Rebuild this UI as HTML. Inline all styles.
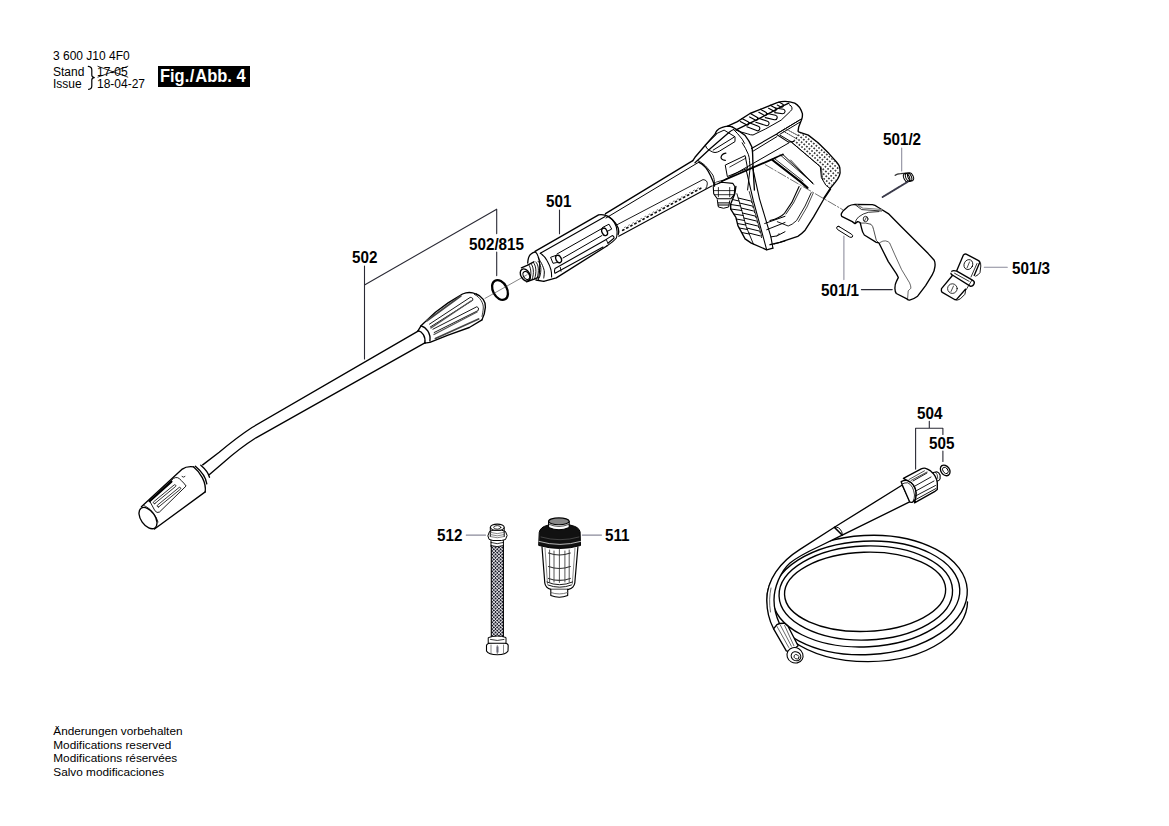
<!DOCTYPE html>
<html><head><meta charset="utf-8">
<style>
html,body{margin:0;padding:0;background:#fff;}
body{width:1169px;height:826px;position:relative;overflow:hidden;font-family:"Liberation Sans",sans-serif;color:#000;}
.t{position:absolute;white-space:nowrap;line-height:1;}
.r{font-size:12px;}
.b{font-weight:bold;font-size:17.4px;transform:scaleX(0.875);transform-origin:0 0;}
svg{position:absolute;left:0;top:0;}
</style></head><body>
<div class="t r" style="left:53px;top:50px;">3 600 J10 4F0</div>
<div class="t r" style="left:53px;top:66px;">Stand</div>
<div class="t r" style="left:53px;top:78px;">Issue</div>
<div class="t r" style="left:97px;top:66px;">17-05</div>
<div class="t r" style="left:97px;top:78px;">18-04-27</div>
<div style="position:absolute;left:158px;top:66px;width:92px;height:21px;background:#000;"></div>
<div class="t" style="left:160px;top:67.85px;font-size:17.7px;font-weight:bold;color:#fff;transform:scaleX(0.93);transform-origin:0 0;">Fig.<span style="margin-left:0.6px">/</span><span style="margin-left:1px">Abb.</span> 4</div>
<div class="t r" style="left:53.3px;top:725px;line-height:13.7px;font-size:11.8px;">Änderungen vorbehalten<br>Modifications reserved<br>Modifications réservées<br>Salvo modificaciones</div>

<div class="t b" style="left:351.5px;top:249px;">502</div>
<div class="t b" style="left:468.5px;top:236px;">502/815</div>
<div class="t b" style="left:545.5px;top:193px;">501</div>
<div class="t b" style="left:882.5px;top:131px;">501/2</div>
<div class="t b" style="left:820.5px;top:282px;">501/1</div>
<div class="t b" style="left:1011.5px;top:260px;">501/3</div>
<div class="t b" style="left:916.5px;top:405px;">504</div>
<div class="t b" style="left:928.5px;top:435px;">505</div>
<div class="t b" style="left:436.5px;top:527px;">512</div>
<div class="t b" style="left:604.5px;top:527px;">511</div>

<svg width="1169" height="826" viewBox="0 0 1169 826" fill="none" stroke="#000" stroke-width="1.35" stroke-linejoin="round" stroke-linecap="round">

<!-- LANCE 502 -->
<g id="lance">
<ellipse cx="148" cy="518.1" rx="12" ry="7.1" transform="rotate(55 148 518.1)"/>
<path d="M141.4 506.7L182.3 469.1Q186.5 466 193.7 466.9"/>
<path d="M154.5 529L205.2 491.9"/>
<path d="M193.7 466.9C200 472 206.5 482 205.2 491.9"/>
<path d="M195.4 466.3C201 471 206 478 206.8 483.8M200.8 465.3C204 468 208 472 209.5 477.2"/>
<path d="M144 505.5C150 508 156 515 158 522" stroke-width="0.8"/>
<path d="M150.2 501.2L173.6 478.3Q178 476 181.2 480.5Q184 483 186.1 486L159.4 512.1Q157 513.5 155.1 511Z" stroke-width="0.9"/>
<path d="M149.6 501.2L171.4 481.6" stroke-width="2.2"/>
<path d="M154.9 503.5L175.7 486.4A1.10 1.10 0 0 0 174.3 484.8L153.5 501.9A1.10 1.10 0 0 0 154.9 503.5ZM158.7 506.9L180.5 489.1A1.10 1.10 0 0 0 179.2 487.4L157.4 505.2A1.10 1.10 0 0 0 158.7 506.9Z" stroke-width="0.8"/>
<path d="M182 476.5q1.5 1.5 3 0" stroke-width="0.8"/>
<path d="M202.7 464.9L219.2 452.3Q236 438 252 427.5L418.5 330.8"/>
<path d="M209.5 474.6L224.1 462Q240 448 256 437.8L425.3 342.7"/>
<!-- nut -->
<path d="M418.1 330.7C422 331.5 426 336 424.8 343.1"/>
<path d="M421 325.8C426 327 431 333 429.9 341"/>
<path d="M418.1 330.7L421 325.8L435.4 312.2L448.1 302.9L462.5 294Q469.3 291 476.1 294"/>
<path d="M424.8 343.1L429.9 342.3L448.1 335.1L469.3 327.5L482 319.8"/>
<path d="M476.1 294C482 296 486 302 485.4 307.1C485 312 484 316 482 319.8"/>
<path d="M474.4 294.4C480 297 483.5 303 483.3 308C483 312 482.5 314 482 316.4" stroke-width="0.8"/>
<path d="M429.5 324.1L470.2 297.4Q473.5 297.5 472.7 300.3L430.3 327" stroke-width="0.9"/>
<path d="M432.9 329.2L476.9 306.7Q479.5 307.5 478.2 310.5L434.2 332.5" stroke-width="0.9"/>
<path d="M435.4 338.5L478.6 319" stroke-width="1.8" stroke="#444"/>
<path d="M426.9 320.7L460.8 296.1" stroke-width="1.8" stroke="#444"/>
<path d="M431 328L471 301M434 334.5L477 312" stroke-width="1.4" stroke="#555"/>
</g>
<!-- O-ring 502/815 -->
<ellipse cx="500" cy="290" rx="10.6" ry="7" transform="rotate(62 500 290)" stroke-width="2.3"/>
<path d="M485 298.4L527 274.8" stroke-width="0.6" stroke="#333"/>

<!-- GUN 501 -->
<g id="gun">
<!-- threaded tip -->
<ellipse cx="525.3" cy="275" rx="4.4" ry="6.6" transform="rotate(-30 525.3 275)" stroke-width="1.4"/>
<ellipse cx="526.3" cy="275.5" rx="2.8" ry="4.3" transform="rotate(-30 526.3 275.5)" stroke-width="1"/>
<path d="M521.4 267.8L527.1 265.4L533.8 261.8M526.5 281.8L535.6 278.7L538 277.5"/>
<path d="M528.3 264.2C531 267 532 274 529.5 280.5M530.7 263.3C533.5 266 534.5 273 532 279.7M533.2 262.4C536 265 537 272 534.5 279M535.6 261.8C538.5 264 539.5 271 537 278.3M538 261.2C541 263.5 542 270 539.5 277.5" stroke-width="0.9"/>
<!-- flange -->
<path d="M527.7 263C528 258 529 255.5 531 254C532.5 252.5 534 252 535.6 251.8" stroke-width="1.3"/>
<path d="M535.5 252C537.5 254 539 258 539.5 262C540 268 539.5 274 538.5 279.5" stroke-width="1.1"/>
<path d="M536 280L543.7 281.3"/>
<!-- sleeve -->
<path d="M535 251.3L598.6 214.9Q601.5 214.3 605.2 215.2"/>
<path d="M540.3 253.3L605.2 216.5" stroke-width="1.1"/>
<path d="M605.2 215.2C610.6 217.1 615.5 222 618.2 228C619 231 618.8 233 618.2 234.5"/>
<path d="M607.9 216C613.3 219.8 617.1 225.8 617.1 231.8C617 235 616.5 238 616.1 238.3C614.5 240.5 612 242.5 606.8 246" stroke-width="1.1"/>
<path d="M557 254L602 228.5M563 258L602 235.5" stroke-width="1"/>
<ellipse cx="558.6" cy="259" rx="2.6" ry="3.9" transform="rotate(-25 558.6 259)" fill="#fff"/>
<ellipse cx="604.6" cy="231.8" rx="2.6" ry="3.9" transform="rotate(-25 604.6 231.8)" fill="#fff"/>
<path d="M556.3 255.3L550.6 257.3L553 263.3L556.5 262.6" stroke-width="1"/>
<path d="M602.5 227.5L609 224.2L611.7 229.1L607 231.5" stroke-width="1"/>
<path d="M555 268.6L606.2 239.4L612.2 235.6Q614.5 236.5 613.9 238.3L607.9 243.2M555 268.6Q554 271.5 555 273.3L603 247" stroke-width="1.1"/>
<path d="M560.3 267.3L561 271.3M606.2 239.4L607.9 243.2" stroke-width="0.9"/>
<path d="M543.7 281.3L556.3 277.9L606.8 246"/>
<path d="M540.3 253.3C543 255 545.7 258 547 260.5C549 264 550.3 267.3 551 270C551.7 273 551.6 276.6 551.6 277" stroke-width="1.1"/>
<path d="M538.3 258C539.5 260 541.7 263.3 542.5 265.5C543.5 268 544.3 270 544.3 272C544.3 275 543.7 277.9 543.7 278" stroke-width="1"/>
<!-- tube -->
<path d="M605.5 213.6L692.8 160.7"/>
<path d="M606 218L698.6 162.3" stroke-width="1"/>
<path d="M617.3 224.6L703 179.6Q707.5 180 707.3 183.9Q707 187 705.9 188.3" stroke-width="0.9"/>
<path d="M618.7 236.2L711.7 186.1" stroke-width="1.1"/>
<path d="M622.7 230.3L702.6 187.3" stroke-width="1.7" stroke="#111" stroke-dasharray="1.3 3.3"/><path d="M624.5 227.5L700 187" stroke-width="0.9" stroke="#666" stroke-dasharray="1 3.6"/>
<path d="M698.6 162.1C703 164 708 170 710.5 175.5C712 179 714 183 714.6 186"/>
<!-- body front / neck -->
<path d="M692.8 160.7L695 157.3L705.3 145.2L715 134.3Q716 131.5 716.8 130.7Q719 128.5 721.6 127.7Q725 126.3 727.7 126.2Q730.5 126.3 732.5 127.1"/>
<path d="M727.7 126.2L737.4 121.6L750 113.5L777.2 102.6Q786 100 794.7 103.2Q800 106 802.4 113.6Q802.6 117 801.8 119.1L798.7 126.9L798.1 131.2"/>
<path d="M695 162.8L710.7 148.3L728.9 132.5Q731.5 130.2 733.7 129.5" stroke-width="1.3"/>
<path d="M705.3 145.2Q705.5 148.5 710.1 150.7Q713 152.5 715 152.5Q717.5 152.3 719.2 151.3L735 141.6L735 136.8L724.1 130.1L715 134.3" stroke-width="1"/>
<path d="M713.2 150.1L733.7 137.4" stroke-width="1"/>
<path d="M706.5 144L716.5 134.5" stroke-width="0.8"/>
<path d="M725.9 153.1Q721.6 153.8 721 157.3Q721.2 160 725.3 160.4" stroke-width="1.2"/>
<!-- front band -->
<path d="M732.5 127.1Q738.6 130.1 745.2 135.6Q749.5 141 751.9 147.1Q752.8 152 752.8 160.4L753.1 168L754.4 190"/>
<path d="M733.7 129.5Q737.4 133.1 742.2 139.2L744.6 143.4" stroke-width="1"/>
<path d="M742.2 142.8Q745.8 148.3 748.3 154.3Q749.5 158 749.5 160.4L750.1 168L747.6 190" stroke-width="1"/>
<!-- neck arc -->
<path d="M698.5 160.7C702 163 705 165 706.9 167.5C710 171 712 174 712.9 175.1C714 178 714.6 181 714.6 183.6" stroke-width="0.9"/>
<!-- button -->
<path d="M725.6 164.9L745.1 155.6L747.6 168.3L727.7 176.4Z" stroke-width="1"/>
<path d="M729.8 167L745.9 158.1" stroke-width="0.8"/>
<!-- body lower line -->
<path d="M718 183.6L788.7 143" stroke-width="1"/>
<path d="M722.2 181L774.2 158.4Q779 155.8 782.9 154.5" stroke-width="1.8"/>
<path d="M782.9 154.5L812.9 183.6" stroke-width="1"/>
<!-- top grip plate -->

<path d="M777.2 133.7L801.2 119" stroke-width="1"/>
<path d="M751.5 148.5L776.3 134.2L788.5 142.1L793.9 141.5" stroke-width="1.1"/>
<path d="M752.5 151.5L776.9 136.6" stroke-width="1"/>
</g>

<g id="gun2">
<!-- top grip plate -->
<path d="M735.5 130Q742 132.5 747.8 133.9Q750.5 135 753 135L765.8 128.8L781.2 120.1L790.4 111.3Q792.5 109.5 792 107.8Q791.5 105.5 789.4 104.7" stroke-width="1"/>
<path d="M737.1 129.3L757.1 119.6L770.9 112.4L781.2 106.7L788.9 103.1" stroke-width="1.3"/>
<path d="M746.9 126.7L756.6 130.6A2.30 2.30 0 0 0 758.3 126.3L748.7 122.5M755.8 122.2L766.0 125.6A2.30 2.30 0 0 0 767.4 121.2L757.2 117.8M765.3 117.6L774.3 119.7A2.30 2.30 0 0 0 775.4 115.2L766.3 113.2M774.7 112.6L782.7 113.7A2.30 2.30 0 0 0 783.4 109.2L775.3 108.0" stroke-width="1.1"/>
<path d="M740.3 121.5L746.5 124.8A1.70 1.70 0 0 0 748.1 121.8L741.9 118.5M749.6 116.9L755.3 120.1A1.70 1.70 0 0 0 757.0 117.2L751.2 113.9M758.8 112.3L764.5 115.5A1.70 1.70 0 0 0 766.2 112.6L760.4 109.3M768.6 108.2L773.7 111.0A1.70 1.70 0 0 0 775.3 108.0L770.2 105.2M777.3 105.1L780.9 106.9A1.70 1.70 0 0 0 782.5 103.9L778.9 102.1" stroke-width="1.1"/>



<path d="M776.9 133.6L799.3 120.3M780 134.2L800 122.1" stroke-width="1"/>
<!-- handle back textured -->
<path d="M798.5 131.8L808.3 135.1L818.1 142.7L829 153.6L836.7 162.3Q840 166 839.9 168.8Q840.5 173 839.4 175.4Q838 179 835.6 181.9L830.1 188.5L825.8 195L823.6 198.3"/>

<path d="M790.9 141.6L820.3 166.7L821.4 177.6L825.8 185.2L830.1 188.5" stroke-width="1"/>
<path d="M792 142.7L821.4 167.7L822.5 179.7" stroke-width="0.7"/>
<path d="M780 135.1L790.9 141.6" stroke-width="1"/>
<path d="M783 131L797 139M785 128.5L798 135.5" stroke-width="1" stroke="#333" stroke-dasharray="1 1.2"/>
<path d="M799.5 133L808.3 136L818 143.5L828.5 154.5L836 163Q839 167 839 169Q839.3 173.5 838.4 175.4Q837 179 834.8 181.5L829.6 187.6L826.5 185L822.3 178.5L821.3 167L791.8 142.2Z" fill="url(#dots)" stroke="none"/>
<!-- trigger guard / lower body -->
<path d="M780 154.7L812.7 183" stroke-width="0.8"/>

<path d="M772.4 160L800.7 181.9L807.5 187.8" stroke-width="2.2"/>
<path d="M775 159L803 181" stroke-width="0.8"/>
<path d="M790.6 160L813.6 184.2" stroke-width="0.8"/>
<path d="M830.5 189.1L823.3 200L813.6 216.9L805.1 230.2Q801 234.5 797.8 236.3L779.7 242.3L770 244.7"/>
<path d="M799.1 186.6L791.8 202.4L784.5 213.3Q780 218 770 220.5" stroke-width="1.1"/>
<path d="M801 188L793.5 203L786 214" stroke-width="0.8"/>
<path d="M811.2 192.7L805.1 206L796.6 220.5Q792 225 788.2 226L777.3 221.7" stroke-width="0.9"/>
<path d="M813 193.5L807 207L798.5 221.5" stroke-width="0.7"/>
<path d="M764.7 223.5L785 216.3M766.7 229.7L785 222.5M770.9 236.9L777 235.9L785 231.7M773.9 244.1L785 241" stroke-width="1"/>
<path d="M777 236L779 233.5" stroke-width="0.8"/>
<!-- trigger guard front bar -->
<path d="M746.2 170L753.4 200.9L766.7 249.8" stroke-width="1.1"/>
<path d="M752.3 166.1L759.5 198.8L770.9 236.9L772.9 248.2" stroke-width="1.1"/>
<!-- front ribbed grip -->
<path d="M735.9 186.5L734.8 193.7L730.7 204L730.7 209.1L735.9 217.3L737.9 225.6L745.1 238.9L751.3 243.1L766.7 249.8L772.9 248.2"/>
<path d="M736.9 193.7L742 211.2L746.2 226.6L753.4 244.1" stroke-width="0.9"/>
<path d="M749.2 191.6L761.6 235.9" stroke-width="0.8"/>
<path d="M732.5 199.5L739.0 201.0M730.7 204.5L740.5 206.0M730.7 209.0L741.8 210.5M733.8 214.0L743.2 215.5M736.3 219.0L744.5 220.5M737.4 223.5L745.8 225.0M739.2 228.0L747.4 229.5M741.6 232.5L749.2 234.0M738.2 198.0L750.8 201.0Q752.3 201.5 751.8 202.5M739.6 203.0L752.2 206.0Q753.7 206.5 753.2 207.5M741.1 208.0L753.6 211.0Q755.1 211.5 754.6 212.5M742.5 213.0L755.0 216.0Q756.5 216.5 756.0 217.5M743.9 218.0L756.4 221.0Q757.9 221.5 757.4 222.5M745.2 223.0L757.8 226.0Q759.3 226.5 758.8 227.5M746.8 228.0L759.2 231.0Q760.7 231.5 760.2 232.5M748.8 233.0L760.6 236.0Q762.1 236.5 761.6 237.5" stroke-width="1"/>
<!-- hex fitting -->
<path d="M713.2 185.4L721.5 182.3L732.8 183.4L734.8 186.5L734.3 194.7L730.7 198.8L717.3 198.8L713.7 193.7Z" stroke-width="1.1"/>
<path d="M718.4 187.5V196.8M729.7 187.5V196.8M713.7 190.6H734.8M714.3 194.7H734.3" stroke-width="0.8"/>
<path d="M717.3 199.8L718.4 207Q723.5 209.5 728.7 207L729.7 200.9M717.9 202.9H729.2M718 205H729" stroke-width="1"/>
<path d="M713 185L716.5 182L722 180.5" stroke-width="0.8"/>
</g>
<path d="M765.3 164.7L842.6 209.6" stroke-width="0.7" stroke="#333" stroke-dasharray="9 2 1.5 2"/>

<!-- TRIGGER 501/1 -->
<g id="trigger">
<path d="M843 211L848.3 206.3Q851 204.5 855 204.3L872.3 204.6Q875 205 877.6 207L888.3 213.6L901.6 227L914.9 240.3L928.2 253.6L934.2 260.3Q935.5 263 934.9 266.9Q934.5 271 932.2 274.9L925.6 285.6L917.6 296.2Q913 299.5 909.6 300.2Q908 300 906.9 298.9L896.3 293.5Q895 292 894.9 288.2Q895 284 896.3 281.6L898.3 277.6Q897.5 275.5 896.3 273.6L888.3 261.6L881.6 248.3L878.9 242.9L876.3 242.3L864.3 235Q862.3 232 861.6 228.3L860.3 223Q859 221.3 857.6 221.6L855 223.6Q853.5 222.5 852.3 221.6L841.7 216.3Q841 215 841.4 213.6Z"/>
<path d="M855 223.6Q855.5 219.5 858.5 217Q863 213.5 868.3 212.3L878.9 211.6" stroke-width="0.8"/>
<path d="M855.6 205L861.6 209.6L881.6 211" stroke-width="0.8"/>
<path d="M857 204.8L862.5 208L882 209.5" stroke-width="1.2" stroke="#777"/>
<ellipse cx="865.6" cy="219" rx="2.4" ry="2.7" stroke-width="0.8"/>
<path d="M864.5 221L866.5 217" stroke-width="0.7"/>
<path d="M860.3 223Q866 222.5 871 224.3Q873 226 873.6 229.6L876.3 240.3L878.9 242.9" stroke-width="0.7"/>
<path d="M880.3 242.3Q883 240.5 885.6 240.9Q888.5 241.5 889.6 242.9L894.9 254.9L901.6 269.6L909.6 282.9Q911 286 910.9 288.2L908.2 290.9L907.6 298.9" stroke-width="0.6"/>
<!-- pin -->
<path d="M839 226.5L851.5 234.2Q853.5 235.8 852.3 237Q851 237.8 849.5 237L837.5 229.5Q836 228 837 226.8Q838 226 839 226.5Z" stroke-width="1"/>
</g>
<!-- SPRING 501/2 -->
<g id="spring">
<path d="M895.2 175.3Q897 173.8 900.6 173.6L906.6 173.1" stroke-width="1.3" stroke="#333"/>
<ellipse cx="906.6" cy="177.5" rx="2.8" ry="4.4" transform="rotate(-25 906.6 177.5)" stroke-width="1"/>
<ellipse cx="908.6" cy="177.2" rx="2.8" ry="4.5" transform="rotate(-25 908.6 177.2)" stroke-width="1"/>
<ellipse cx="910.6" cy="176.9" rx="2.6" ry="4.3" transform="rotate(-25 910.6 176.9)" stroke-width="1"/>
<path d="M907.7 181.8L882.6 197" stroke-width="1.9" stroke="#3a3a4a" stroke-dasharray="0.8 0.8"/>
</g>
<!-- HINGE 501/3 -->
<g id="hinge" stroke-width="1.35">
<path d="M956.8 270.4L963.3 255.2Q964.5 253.5 966.2 254.1L978.6 260.6Q980 261.5 979.7 262.4L974.2 275.5"/>
<path d="M978.6 260.6Q981.5 263 980.8 266L980 272.6Q978.5 275 975.7 276.2" stroke-width="0.9"/>
<ellipse cx="968.4" cy="264.6" rx="4.3" ry="5.1" transform="rotate(25 968.4 264.6)" stroke-width="0.8"/>
<path d="M967 268L969.5 262" stroke-width="0.7"/>
<path d="M952.4 275.5L941.5 288.6Q941 291 941.9 292.2L954.6 299.5Q956 300 956.8 299.1L965.5 289.3"/>
<path d="M965.5 289.3Q965.8 292 964.8 294.4L960.4 298.8Q958 300.3 956.1 300.2" stroke-width="0.9"/>
<ellipse cx="952.4" cy="288.6" rx="4.8" ry="4.8" stroke-width="0.8"/>
<path d="M951 291.5L953.5 286" stroke-width="0.7"/>
<path d="M951.7 271.2Q953.5 270 956.8 271.2L972 279.9Q975 281.5 974.2 283.5Q973 286.5 970.6 286.4L953.2 275.5Q950.5 274 951 273.3" fill="#fff"/>
<path d="M954.6 273.3L969.1 281.3" stroke-width="0.8"/>
<path d="M971 277L977 263.5M966 290L972 280" stroke-width="0.8"/>
</g>
<!-- HOSE 504 -->
<g id="hose504">
<ellipse cx="865.1" cy="591.8" rx="80.6" ry="39.6" transform="rotate(-2 865.1 591.8)"/>
<ellipse cx="865.8" cy="593" rx="86.8" ry="47" transform="rotate(-2 865.8 593)"/>
<ellipse cx="866.1" cy="594" rx="93.8" ry="52.8" transform="rotate(-3 866.1 594)"/>
<ellipse cx="867.2" cy="595" rx="100.2" ry="59.6" transform="rotate(-3 867.2 595)"/>
<path d="M767.5 600C766 625 800 661.6 868 661.6C930 661.6 967.5 630 967.5 602"/>
<!-- straight hose & sleeve -->
<path d="M834.4 527.3L800 549.4C780 562 766.8 580 766.8 600C766.8 612 769.5 621 773.6 628.8L779.5 623.7C776 616 774 609 774 600C774 588 780 572 790 563C797 557.4 805 553 819 546.5L842.2 535.1Z" fill="#fff"/>
<path d="M834.4 527.3L902.3 485L910.1 501.7L842.2 535.1Z" fill="#fff"/>
<path d="M834.4 527.3Q839 526 841.7 531.7Q842.5 533.5 842.2 535.1" stroke-width="1"/>
<path d="M771 588C769.5 595 769 603 770.5 612" stroke-width="0.6"/>
<!-- collar & nut -->
<path d="M901.2 481.7Q904 480 907.8 480.6Q911.5 482 913.4 485Q916 488.5 916.2 492.8Q916.5 497 915.6 499.5L912.3 502.3Q910 502.5 909.5 501.5L902.3 485Z" fill="#fff"/>
<path d="M902.3 483.9Q905 482.5 907.8 482.8Q910.5 484 912.3 487.2Q914 490.5 914.5 495Q914.5 498.5 913.4 500.6" stroke-width="0.8"/>
<path d="M903.4 478.4L921.2 468.9Q923.5 467.8 925.6 468.3Q928 469 930.1 470.6Q933 473 935.1 476.1Q937 479.5 937.3 482.8L937.3 489.5L934.5 491.7L914.5 502.8Q916.5 497 916.2 492.8Q916 488.5 913.4 485Q911.5 482 907.8 480.6Q905.5 479.8 903.4 478.4Z" fill="#fff"/>
<path d="M913 481L927 473M915 486L931 477M915.8 491L934 481M915.5 496L935.5 485.5M914 500.5L936 488.5" stroke-width="0.9"/>
<path d="M909 479.5L924.5 470.8M911 480.5L927 472" stroke-width="0.7"/>
<path d="M932.3 472.8L936.8 471.7Q939 472.5 940.1 475L940.1 478.9Q939.5 480.5 937.3 481.1" stroke-width="1.1"/>
<path d="M935.5 472.2Q938 474 937.8 478.5" stroke-width="0.7"/>
</g>
<!-- washer 505 -->
<ellipse cx="945.2" cy="470.4" rx="4.3" ry="5.8" transform="rotate(-35 945.2 470.4)" stroke-width="1.3"/>
<ellipse cx="945.4" cy="470.4" rx="2.4" ry="3.6" transform="rotate(-35 945.4 470.4)" stroke-width="0.9"/>
<!-- fitting lower-left -->
<g id="fit504">
<path d="M773.6 628.8L776.9 624.6Q780 623 784.6 623.3L788 626.3L798.1 645.8L790 652L786.3 650.8Z" fill="#fff"/>
<path d="M776.9 626.3L788.8 647.5M780.3 625L791.4 646.2M784.6 625.4L793.9 645.8" stroke-width="0.6"/>
<ellipse cx="795" cy="655.3" rx="8.2" ry="7.6" transform="rotate(30 795 655.3)" fill="#fff" stroke-width="1.1"/>
<ellipse cx="796" cy="656.3" rx="5" ry="4.4" transform="rotate(30 796 656.3)" stroke-width="1"/>
<ellipse cx="796.5" cy="656.8" rx="2.6" ry="2.1" transform="rotate(30 796.5 656.8)" stroke-width="0.8"/>
</g>

<!-- HOSE 512 -->
<defs>
<pattern id="braid" width="2.4" height="2.4" patternUnits="userSpaceOnUse" patternTransform="rotate(45)" stroke="none">
<rect width="2.4" height="2.4" fill="#fff"/>
<rect width="1.75" height="1.75" fill="#1a1a2a"/>
</pattern>
<pattern id="dots" width="3.4" height="3.4" patternUnits="userSpaceOnUse" patternTransform="rotate(40)" stroke="none">
<circle cx="1.7" cy="1.7" r="0.85" fill="#000"/>
</pattern>
</defs>
<g id="hose512">
<rect x="491.3" y="546" width="12.1" height="91" fill="url(#braid)" stroke="none"/>
<path d="M491.3 546V637M503.4 546V637" stroke-width="1.1"/>
<!-- top fitting -->
<path d="M488 535.5L489.5 531.5L493 530.2H501.5L505.5 531.5L507.1 535.5L505.5 539.5L501.5 540.5H493L489.5 539.5Z" fill="#fff" stroke-width="1"/>
<path d="M490.3 527.4V536.5M504.2 527.4V536.5" stroke-width="1"/>
<path d="M490.3 532.4Q497.3 535 504.2 532.4M490.3 534.6Q497.3 537.2 504.2 534.6M490.3 536.6Q497.3 539 504.2 536.6" stroke-width="0.7" stroke="#555"/>
<ellipse cx="497.3" cy="527.2" rx="6.9" ry="3.1" fill="#fff" stroke-width="1.1"/>
<ellipse cx="497.3" cy="527.4" rx="3.6" ry="1.8" stroke-width="0.8"/>
<path d="M491 540.5V546.5M503.4 540.5V546.5" stroke-width="1"/>
<path d="M491 542.5Q497.2 545 503.4 542.5M491 545.5Q497.2 548 503.4 545.5" stroke-width="0.8"/>
<!-- bottom fitting -->
<path d="M488.6 637.5Q497.3 634.5 506 637.5L506 643.3Q497.3 646 488.6 643.3Z" fill="#fff" stroke-width="1"/>
<path d="M490.5 639.5Q497.3 641.5 504 639.5" stroke-width="0.8"/>
<path d="M486.5 645.5Q487 643.3 490 643.3H505Q508 643.3 508.2 645.5L508 651Q506 654.6 497.3 654.8Q488.5 654.6 486.5 651Z" fill="#fff" stroke-width="1.1"/>
<path d="M491 645V653.5M497.3 645.5V654.5M503.5 645V653.5" stroke-width="0.7" stroke="#555"/>
<path d="M496.5 646.5H498.5V652.5H496.5Z" fill="#667" stroke="none"/>
</g>
<!-- FILTER 511 -->
<g id="filter511">
<path d="M542 546.9L544.8 583Q545.5 588 551 589.4L568.5 589.4Q574 588 574.8 583L577.9 546.9" stroke-width="1.2" fill="#fff"/>
<path d="M545 548L547.5 584M575 548L572.3 584" stroke-width="0.7" stroke="#555"/>
<path d="M549.6 550V582M569.2 550V582M554 551V582M564.9 551V582M559.4 549.5V582.5" stroke-width="0.9" stroke="#444"/>
<path d="M548.5 553Q559.4 557 570.3 553M548.5 566.5Q559.4 570.5 570.3 566.5M548.5 578.4Q559.4 582.4 570.3 578.4" stroke-width="1.1" stroke="#333"/>
<path d="M547 582Q559.4 587.5 572.5 582M548 585Q559.4 589.5 571.5 585" stroke-width="0.9"/>
<path d="M550.8 589.4V595.5Q559.3 599 567.7 595.5V589.4" fill="#fff" stroke-width="1.1"/>
<path d="M550.8 592.5Q559.3 595.5 567.7 592.5" stroke-width="0.8" stroke="#555"/>
<!-- black cap -->
<path d="M539.3 532Q540 527 548.5 525L570 525Q579.5 527 580.1 532L580.5 545.5Q560 551.5 539 545.5Z" fill="#111" stroke-width="1"/>
<path d="M539 541.4Q560 547.5 580.7 541.4" stroke="#fff" stroke-width="0.7"/>
<path d="M541 537Q560 542.5 579 537" stroke="#666" stroke-width="0.6"/>

<!-- top small cap -->
<path d="M548.6 521.3V527.5Q558.9 532 569.2 527.5V521.3" fill="#fff" stroke-width="1.1"/>
<ellipse cx="558.9" cy="521.3" rx="10.3" ry="3.4" fill="#888" stroke-width="1.1"/>
<path d="M549.5 524.5Q558.9 528.5 568.5 524.5" stroke-width="0.7"/>
</g>
<!-- brace & strike -->
<path d="M88.3 66.3Q91.8 66.6 91.8 70V75.3Q91.8 77.2 94.3 77.6Q91.8 78 91.8 80V86Q91.8 89 88.6 89.3" stroke-width="1.2"/>
<path d="M97.9 66.3L127.8 77.1M97.9 77.1L127.8 66.3" stroke-width="0.8"/>
<!-- leaders -->
<g stroke-width="1.1" stroke="#2a2a35">
<path d="M364.5 266V359M364.5 285L496.7 209.2V233.6M496.7 252V275.6M559.5 210V233.8"/>
<path d="M861.4 289.6H892.2"/>
<path d="M929.3 421.2V428.2M915.6 469.1V428.2H942.9V434.5M942.9 451.1V461.5"/>
</g>
<g stroke-width="1.05" stroke="#8a8a9a">
<path d="M901.7 148V171M843.9 236V279.6M984.3 267.3H1007.3"/>
<path d="M466.2 535.1H485.6M582.3 535.1H601.5"/>
</g>
</svg>
</body></html>
